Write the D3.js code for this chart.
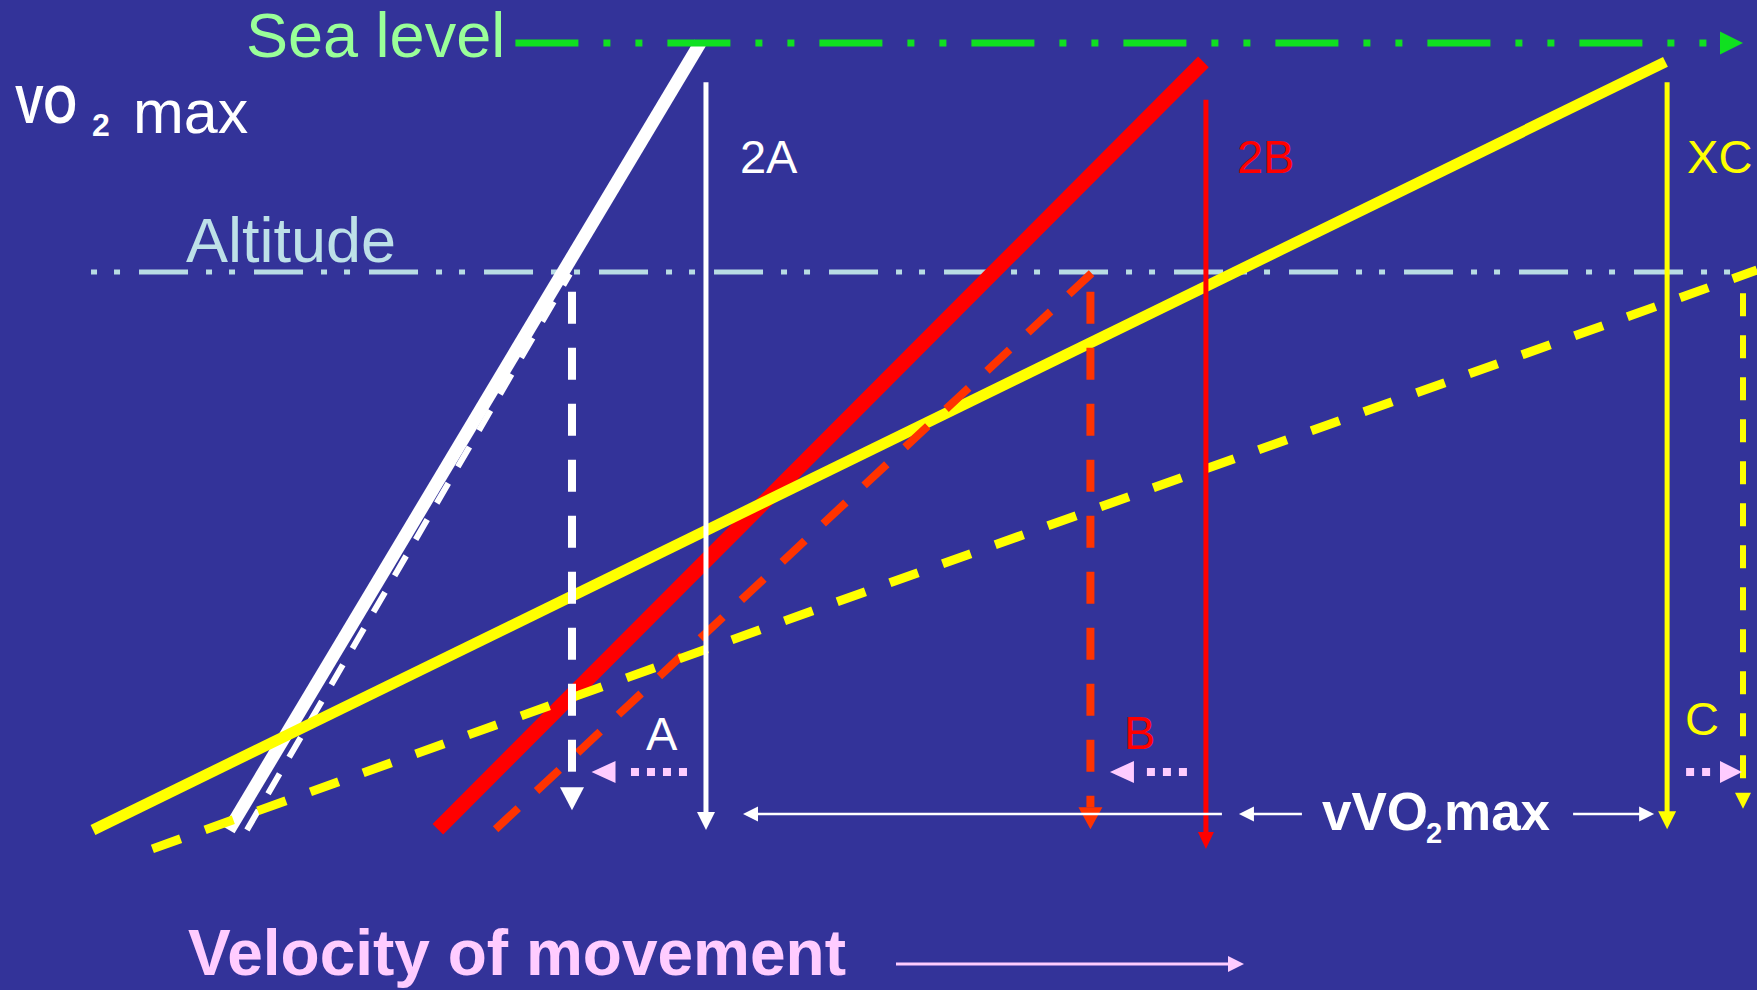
<!DOCTYPE html>
<html>
<head>
<meta charset="utf-8">
<script src="https://cdn.jsdelivr.net/npm/d3@7"></script>
<style>
html,body{margin:0;padding:0;background:#333399;overflow:hidden}
svg{display:block}
text{font-family:"Liberation Sans",Arial,Helvetica,sans-serif}
</style>
</head>
<body>
<svg id="chart" width="1757" height="990"></svg>
<script>
// ---------------- data (relative units) ----------------
const groups      = ["2A", "2B", "XC"];
const dropLabels  = ["A", "B", "C"];
const levelNames  = ["Sea level", "Altitude"];
const levelVO2    = [100, 70.9];
const yTitle      = ["VO", "2", "max"];
const xTitle      = "Velocity of movement";
const vmaxTitle   = ["vVO", "2", "max"];

// sea-level VO2–velocity lines (solid): start / end points
const seaStartV   = [8.24, 20.9, 0];
const seaStartVO2 = [0, 0.1, 0];
const seaEndV     = [36.8, 67.3, 95.3];
const seaEndVO2   = [100, 97.6, 97.6];

// altitude lines (dashed): start / end points
const altStartV   = [9.33, 24.4, 3.6];
const altStartVO2 = [0, 0.1, -2.4];
const altEndV     = [28.9, 60.6, 100.85];
const altEndVO2   = [70.65, 70.9, 71.15];

// vVO2max drop lines at sea level (solid)
const vmaxSeaV    = [37.15, 67.45, 95.4];
const vmaxSeaTop  = [95.0, 92.8, 95.0];
const vmaxSeaTip  = [0, -2.4, 0.1];

// vVO2max drop lines at altitude (dashed)
const vmaxAltV    = [29.03, 60.45, 100];
const vmaxAltTop  = [68.4, 68.4, 68.2];
const vmaxAltTip  = [2.5, 0.1, 2.7];

// ---------------- drawing ----------------
const svg = d3.select("#chart");
const W = 1757, H = 990;
svg.append("rect").attr("width", W).attr("height", H).attr("fill", "#333399");

const x = d3.scaleLinear().domain([0, 100]).range([93, 1743]);
const y = d3.scaleLinear().domain([0, 100]).range([830, 43]);

const seaColors  = ["#FFFFFF", "#FF0000", "#FFFF00"];
const altColors  = ["#FFFFFF", "#FF3300", "#FFFF00"];
const labelColors = ["#FFFFFF", "#FF0000", "#FFFF00"];
const seaWidths  = [13, 15, 11];
const altWidths  = [6, 8, 9];
const altDash    = ["23,19", "31,25", "30,26"];
const vDashW     = [8, 8, 6];
const vDash      = ["32,24", "32,24", "23,19"];
const vDashHead  = [[23, 12], [22, 12], [16, 8]];
const vSolidHead = [[18, 9], [17, 8], [18, 9]];

function tri(g, pts, fill) {
  g.append("path").attr("d", "M" + pts.map(p => p.join(",")).join("L") + "Z").attr("fill", fill);
}

// Altitude level line
svg.append("line")
  .attr("x1", x(-0.12)).attr("x2", x(100.9))
  .attr("y1", y(levelVO2[1])).attr("y2", y(levelVO2[1]))
  .attr("stroke", "#B8DCE4").attr("stroke-width", 5)
  .attr("stroke-dasharray", "6,17,6,19,49,18");

// diagonals, in stacking order
const diag = svg.append("g");
function seaLine(i) {
  diag.append("line")
    .attr("x1", x(seaStartV[i])).attr("y1", y(seaStartVO2[i]))
    .attr("x2", x(seaEndV[i])).attr("y2", y(seaEndVO2[i]))
    .attr("stroke", seaColors[i]).attr("stroke-width", seaWidths[i]);
}
function altLine(i) {
  diag.append("line")
    .attr("x1", x(altStartV[i])).attr("y1", y(altStartVO2[i]))
    .attr("x2", x(altEndV[i])).attr("y2", y(altEndVO2[i]))
    .attr("stroke", altColors[i]).attr("stroke-width", altWidths[i])
    .attr("stroke-dasharray", altDash[i]);
}
seaLine(0); altLine(0); seaLine(1); seaLine(2); altLine(1); altLine(2);

// Sea level line with arrow
const seaY = y(levelVO2[0]);
const seaArrowTip = x(100);
svg.append("line")
  .attr("x1", x(25.6)).attr("x2", seaArrowTip - 23)
  .attr("y1", seaY).attr("y2", seaY)
  .attr("stroke", "#10E020").attr("stroke-width", 7)
  .attr("stroke-dasharray", "63,25,7,25,7,25");
tri(svg, [[seaArrowTip - 23, seaY - 11.5], [seaArrowTip, seaY], [seaArrowTip - 23, seaY + 11.5]], "#10E020");

// vertical drop lines
const vert = svg.append("g");
groups.forEach((g, i) => {
  // sea level (solid)
  const xs = x(vmaxSeaV[i]), tip = y(vmaxSeaTip[i]);
  const [hl, hw] = vSolidHead[i];
  vert.append("line").attr("x1", xs).attr("x2", xs)
    .attr("y1", y(vmaxSeaTop[i])).attr("y2", tip - hl + 1)
    .attr("stroke", seaColors[i]).attr("stroke-width", 5);
  tri(vert, [[xs - hw, tip - hl], [xs + hw, tip - hl], [xs, tip]], seaColors[i]);
  // altitude (dashed)
  const xa = x(vmaxAltV[i]), tipA = y(vmaxAltTip[i]);
  const [dl, dw] = vDashHead[i];
  vert.append("line").attr("x1", xa).attr("x2", xa)
    .attr("y1", y(vmaxAltTop[i])).attr("y2", tipA - dl)
    .attr("stroke", altColors[i]).attr("stroke-width", vDashW[i])
    .attr("stroke-dasharray", vDash[i]);
  tri(vert, [[xa - dw, tipA - dl], [xa + dw, tipA - dl], [xa, tipA]], altColors[i]);
});

// group labels (2A, 2B, XC)
const groupLabelDx = [34, 31, 20];
groups.forEach((g, i) => {
  svg.append("text").attr("x", x(vmaxSeaV[i]) + groupLabelDx[i]).attr("y", y(0) - 657)
    .attr("font-size", 47).attr("fill", labelColors[i]).text(g);
});

// pink dotted arrows (shift of vVO2max with altitude) and labels A, B, C
const pink = "#FFCCFF";
const arrowY = y(0) - 58;
[0, 1].forEach(i => {
  const tip = x(vmaxAltV[i]) + 19.5;
  const base = tip + 24;
  const end = x(vmaxSeaV[i]) - 19;
  tri(svg, [[tip, arrowY], [base, arrowY - 11], [base, arrowY + 11]], pink);
  const n = i === 0 ? 4 : 3;
  svg.append("line").attr("x1", end - (n * 16 - 8)).attr("x2", end)
    .attr("y1", arrowY).attr("y2", arrowY)
    .attr("stroke", pink).attr("stroke-width", 8).attr("stroke-dasharray", "8,8");
});
{
  const start = x(vmaxSeaV[2]) + 19;
  const tip = x(vmaxAltV[2]) - 1;
  const base = tip - 22;
  svg.append("line").attr("x1", start).attr("x2", start + 24)
    .attr("y1", arrowY).attr("y2", arrowY)
    .attr("stroke", pink).attr("stroke-width", 8).attr("stroke-dasharray", "8,8");
  tri(svg, [[base, arrowY - 11], [tip, arrowY], [base, arrowY + 11]], pink);
}
const dropLabelX = [x(vmaxSeaV[0]) - 60, x(vmaxSeaV[1]) - 82, x(vmaxSeaV[2]) + 18];
const dropLabelY = [750, 749, 735];
dropLabels.forEach((t, i) => {
  svg.append("text").attr("x", dropLabelX[i]).attr("y", dropLabelY[i])
    .attr("font-size", 47).attr("fill", labelColors[i]).text(t);
});

// vVO2max bracket
const bY = y(0) - 16;
const bracket = svg.append("g").attr("stroke", "#FFFFFF").attr("stroke-width", 2.5);
function hArrow(x1, x2, dir) { // dir -1: head at x1 pointing left, +1: head at x2 pointing right
  bracket.append("line").attr("x1", dir < 0 ? x1 + 10 : x1).attr("x2", dir > 0 ? x2 - 10 : x2)
    .attr("y1", bY).attr("y2", bY);
  if (dir < 0) tri(svg, [[x1, bY], [x1 + 15, bY - 7.5], [x1 + 15, bY + 7.5]], "#FFFFFF");
  else tri(svg, [[x2, bY], [x2 - 15, bY - 7.5], [x2 - 15, bY + 7.5]], "#FFFFFF");
}
hArrow(x(vmaxSeaV[0]) + 37, x(vmaxSeaV[1]) + 16, -1);
hArrow(x(vmaxSeaV[1]) + 33, x(vmaxSeaV[1]) + 96, -1);
hArrow(x(vmaxSeaV[2]) - 94, x(vmaxSeaV[2]) - 13, 1);
svg.append("text").attr("x", 1322).attr("y", bY + 16).attr("font-size", 53).attr("font-weight", "bold")
  .attr("fill", "#FFFFFF").text(vmaxTitle[0]);
svg.append("text").attr("x", 1426).attr("y", bY + 29).attr("font-size", 29).attr("font-weight", "bold")
  .attr("fill", "#FFFFFF").text(vmaxTitle[1]);
svg.append("text").attr("x", 1444).attr("y", bY + 16).attr("font-size", 53).attr("font-weight", "bold")
  .attr("fill", "#FFFFFF").text(vmaxTitle[2]);

// level labels
svg.append("text").attr("x", 246).attr("y", 57).attr("font-size", 63).attr("fill", "#99FF99").text(levelNames[0]);
svg.append("text").attr("x", 186).attr("y", 262).attr("font-size", 63).attr("fill", "#BDE0E8").text(levelNames[1]);

// Y axis title: VO2 max
svg.append("text").attr("x", 15).attr("y", 123).attr("font-size", 54).attr("font-weight", "bold")
  .attr("textLength", 62).attr("lengthAdjust", "spacingAndGlyphs").attr("fill", "#FFFFFF").text(yTitle[0]);
svg.append("text").attr("x", 92).attr("y", 136).attr("font-size", 32).attr("font-weight", "bold")
  .attr("fill", "#FFFFFF").text(yTitle[1]);
svg.append("text").attr("x", 133).attr("y", 133).attr("font-size", 61)
  .attr("fill", "#FFFFFF").text(yTitle[2]);

// X axis title + arrow
svg.append("text").attr("x", 188).attr("y", 975).attr("font-size", 64).attr("font-weight", "bold")
  .attr("fill", pink).text(xTitle);
const xaY = 964;
svg.append("line").attr("x1", 896).attr("x2", 1232).attr("y1", xaY).attr("y2", xaY)
  .attr("stroke", pink).attr("stroke-width", 3);
tri(svg, [[1228, xaY - 8], [1244, xaY], [1228, xaY + 8]], pink);
</script>
</body>
</html>
